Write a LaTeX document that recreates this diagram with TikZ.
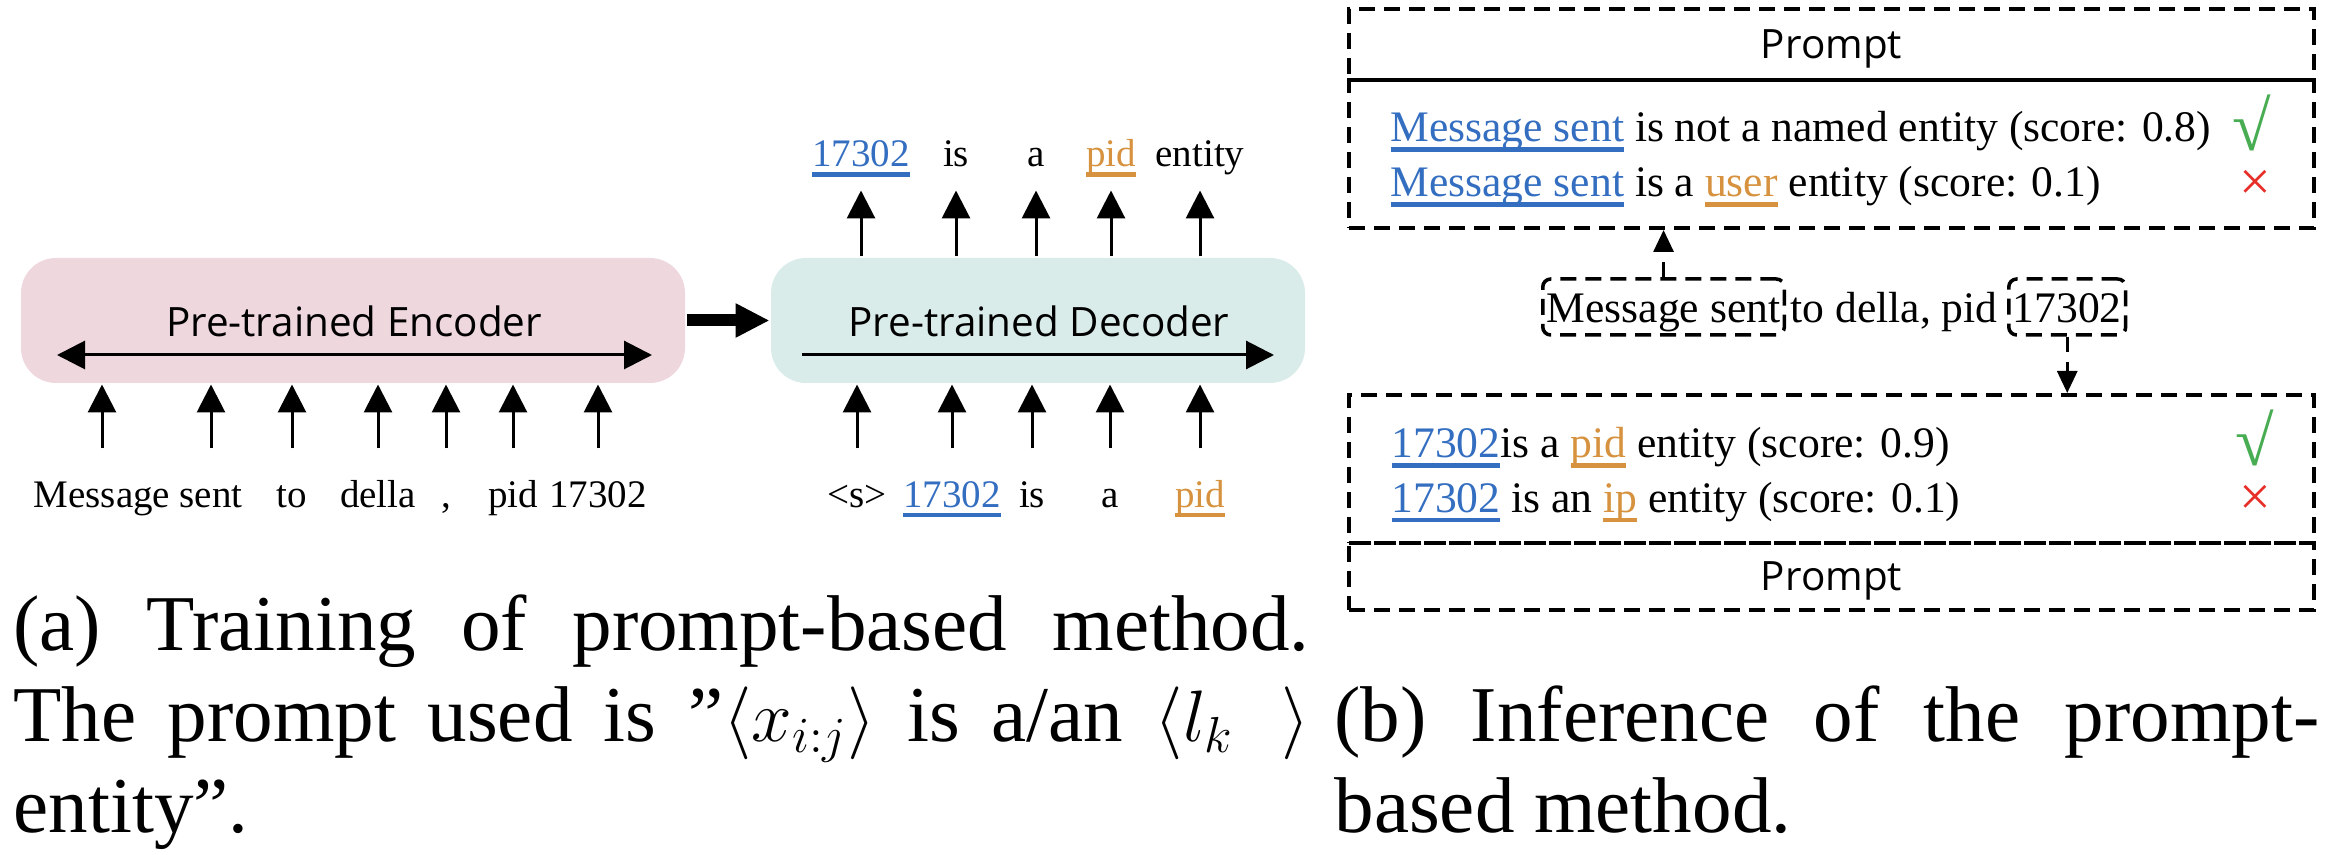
\documentclass[tikz,border=0pt]{standalone}
\usepackage{fontspec}
\setmainfont{Liberation Serif}
\newfontfamily\boxfont{Open Sans}
\usetikzlibrary{arrows.meta}

\definecolor{encpink}{RGB}{239,215,222}
\definecolor{decteal}{RGB}{218,236,234}
\definecolor{spanblue}{RGB}{52,110,192}
\definecolor{typeorange}{RGB}{214,146,62}
\definecolor{okgreen}{RGB}{72,172,82}
\definecolor{badred}{RGB}{232,46,40}

% coloured word with a thick underline
\newcommand{\spanul}[2]{{\color{#1}\setbox0\hbox{#2}\rlap{\rule[-0.1cm]{\wd0}{0.045cm}}\box0}}

\begin{document}
\begin{tikzpicture}[>={Triangle[length=0.28cm,width=0.28cm]}, line width=0.03cm]
    \tikzstyle{block}=[rounded corners=0.35cm, minimum width=5.34cm, minimum height=1.25cm, inner sep=0pt]
    \tikzstyle{encoder block}=[block, fill=encpink, minimum width=6.64cm]
    \tikzstyle{decoder block}=[block, fill=decteal]
    \tikzstyle{block label}=[font=\boxfont\fontsize{11.5}{13}\selectfont, inner sep=0pt, anchor=base]
    \tikzstyle{token}=[font=\fontsize{11.1}{13}\selectfont, inner sep=0pt, anchor=base, text height=0.57cm, text depth=0.05cm]
    \tikzstyle{out token}=[token, text height=0.3cm, text depth=0.22cm]
    \tikzstyle{prompt box}=[draw, dash pattern=on 0.16cm off 0.09cm, line width=0.04cm, minimum width=9.65cm, inner sep=0pt, text depth=0pt, font=\boxfont\fontsize{11.5}{13}\selectfont]
    \tikzstyle{span box}=[draw, dash pattern=on 0.16cm off 0.09cm, line width=0.035cm, rounded corners=0.08cm, inner xsep=0.04cm, inner ysep=0pt, text height=0.44cm, text depth=0.12cm, anchor=base west]
    \tikzstyle{cand}=[font=\fontsize{12.4}{14}\selectfont, inner sep=0pt, anchor=base west]
    \tikzstyle{verdict ok}=[font=\fontsize{20}{20}\selectfont, inner sep=0pt, text=okgreen]
    \tikzstyle{verdict bad}=[font=\fontsize{16}{16}\selectfont, inner sep=0pt, text=badred]
    \tikzstyle{dashed arrow}=[dash pattern=on 0.15cm off 0.1cm, -{Triangle[length=0.22cm,width=0.2cm]}]
    \tikzstyle{caption}=[font=\fontsize{22.5}{25.9}\selectfont, inner sep=0pt, anchor=north west, align=justify]

    \useasboundingbox (0,0) rectangle (23.27,-8.55);

    % (a) encoder and decoder blocks
    \node[encoder block] (enc) at (3.53,-3.205) {};
    \node[decoder block] (dec) at (10.38,-3.205) {};
    \node[block label] (enc-label) at (3.54,-3.37) {Pre-trained Encoder};
    \node[block label] (dec-label) at (10.39,-3.37) {Pre-trained Decoder};
    \coordinate (enc-l) at (0.57,-3.55);
    \coordinate (enc-r) at (6.52,-3.55);
    \coordinate (dec-l) at (8.02,-3.55);
    \coordinate (dec-r) at (12.74,-3.55);
    \draw[<->] (enc-l) -- (enc-r);
    \draw[->] (dec-l) -- (dec-r);
    \draw[line width=0.12cm, -{Triangle[length=0.34cm,width=0.32cm]}] (enc.east) -- (dec.west);

    % Draw the encoder input tokens
    \foreach \name/\x/\word in {1/1.02/Message, 2/2.11/sent, 3/2.92/to, 4/3.78/della, 5/4.46/{,}, 6/5.13/pid, 7/5.98/17302}
        \node[token] (E-\name) at (\x,-5.07) {\word};

    % Draw the decoder input and output tokens
    \foreach \name/\x/\word in {1/8.57/{<s>}, 2/9.52/{\spanul{spanblue}{17302}}, 3/10.32/is, 4/11.10/a, 5/12.00/{\spanul{typeorange}{pid}}}
        \node[token] (D-\name) at (\x,-5.07) {\word};
    \foreach \name/\x/\word in {1/8.61/{\spanul{spanblue}{17302}}, 2/9.56/is, 3/10.36/a, 4/11.11/{\spanul{typeorange}{pid}}, 5/12.00/entity}
        \node[out token] (O-\name) at (\x,-1.67) {\word};

    % Connect the tokens with the blocks
    \foreach \source in {1,...,7}
        \draw[->] (E-\source.north) -- (E-\source.north |- enc.south);
    \foreach \source in {1,...,5}
        \draw[->] (D-\source.north) -- (D-\source.north |- dec.south);
    \foreach \dest in {1,...,5}
        \draw[->] (O-\dest.south |- dec.north) -- (O-\dest.south);

    % (b) prompt boxes and candidate spans
    \node[prompt box, minimum height=0.71cm] (prompt-top) at (18.315,-0.445) {Prompt};
    \node[prompt box, minimum height=1.48cm] (cand-top) at (18.315,-1.54) {};
    \node[prompt box, minimum height=1.48cm] (cand-bot) at (18.315,-4.69) {};
    \node[prompt box, minimum height=0.67cm] (prompt-bot) at (18.315,-5.765) {Prompt};

    \node[cand] (c-1) at (13.89,-1.42) {\spanul{spanblue}{Message sent} is not a named entity (score: 0.8)};
    \node[cand] (c-2) at (13.89,-1.97) {\spanul{spanblue}{Message sent} is a \spanul{typeorange}{user} entity (score: 0.1)};
    \node[cand] (c-3) at (13.90,-4.58) {\spanul{spanblue}{17302}is a \spanul{typeorange}{pid} entity (score: 0.9)};
    \node[cand] (c-4) at (13.90,-5.12) {\spanul{spanblue}{17302} is an \spanul{typeorange}{ip} entity (score: 0.1)};
    \node[verdict ok] (ok-1) at (22.52,-1.23) {√};
    \node[verdict bad] (bad-1) at (22.55,-1.85) {×};
    \node[verdict ok] (ok-2) at (22.55,-4.38) {√};
    \node[verdict bad] (bad-2) at (22.55,-5.00) {×};

    % the input sentence with its two spans
    \node[span box, font=\fontsize{12.4}{14}\selectfont] (msg) at (15.41,-3.23) {Message sent};
    \node[cand] (mid) at (17.89,-3.23) {to della, pid};
    \node[span box, font=\fontsize{12.4}{14}\selectfont] (pid) at (20.07,-3.23) {17302};
    \draw[dashed arrow] (msg.north) -- (msg.north |- cand-top.south);
    \draw[dashed arrow] (pid.south) -- (pid.south |- cand-bot.north);

    % Captions
    \node[caption, text width=12.96cm] (cap-a) at (0.12,-5.93) {(a) Training of prompt-based method.\linebreak The prompt used is ”$\langle x_{i:j}\rangle$ is a/an $\langle l_k\hspace{0.6em}\rangle$\linebreak entity”.};
    \node[caption, text width=9.85cm] (cap-b) at (13.33,-6.84) {(b) Inference of the prompt-\linebreak based method.};
\end{tikzpicture}
\end{document}
